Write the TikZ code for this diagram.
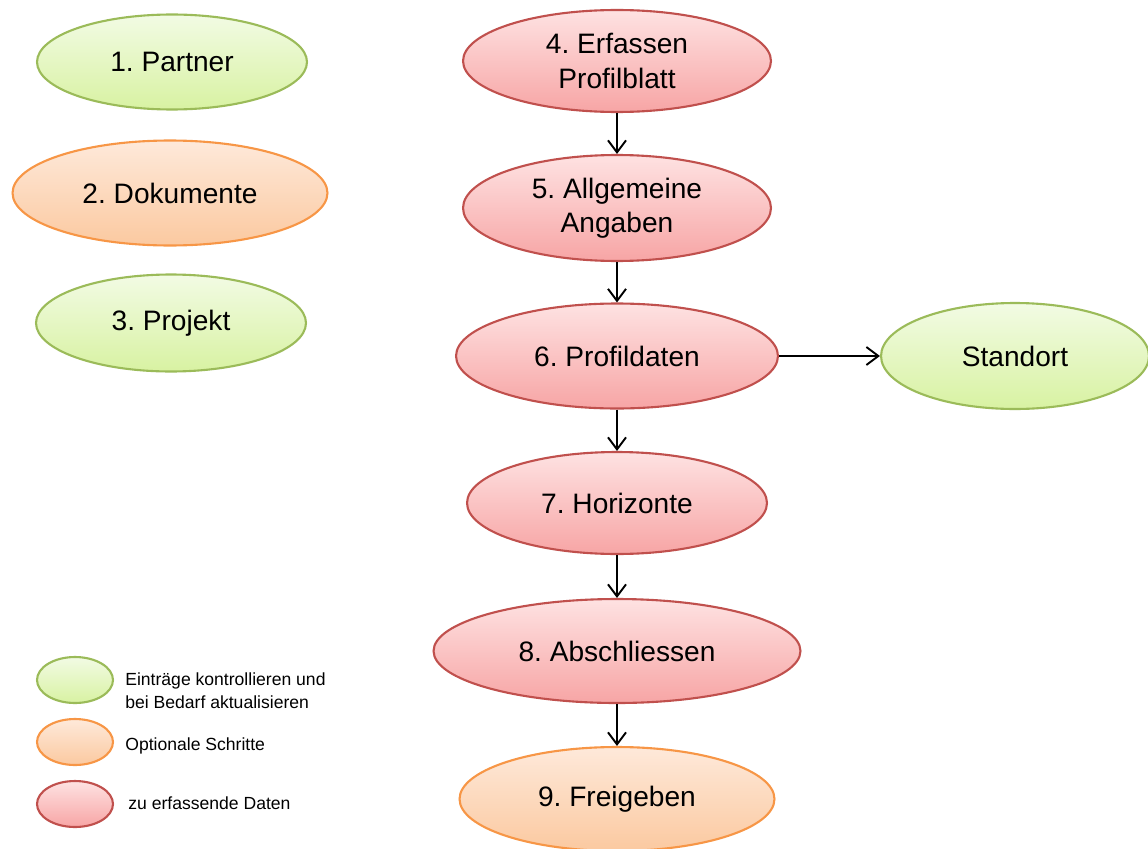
\documentclass[tikz,border=0pt]{standalone}
\usepackage{fontspec}
\setmainfont{Liberation Sans}
\usetikzlibrary{positioning, arrows.meta, shapes.geometric}
\frenchspacing

\definecolor{gruenrand}{HTML}{9BBB59}
\definecolor{gruenoben}{HTML}{F2FBE4}
\definecolor{gruenunten}{HTML}{D8F2A2}
\definecolor{orangerand}{HTML}{F79646}
\definecolor{orangeoben}{HTML}{FEE9DA}
\definecolor{orangeunten}{HTML}{FBC9A0}
\definecolor{rotrand}{HTML}{C0504D}
\definecolor{rotoben}{HTML}{FEE2E2}
\definecolor{rotunten}{HTML}{F7A5A5}

\begin{document}
\begin{tikzpicture}[x=0.02cm, y=-0.02cm,
    schritt/.style={ellipse, line width=1.2pt, inner sep=0pt, align=center,
        font=\fontsize{16}{19.5}\selectfont},
    gruen/.style={schritt, draw=gruenrand, top color=gruenoben, bottom color=gruenunten},
    orange/.style={schritt, draw=orangerand, top color=orangeoben, bottom color=orangeunten},
    rot/.style={schritt, draw=rotrand, top color=rotoben, bottom color=rotunten},
    legende/.style={minimum width=1.52cm, minimum height=0.92cm},
    erklaerung/.style={anchor=west, align=left, inner sep=0pt, font=\fontsize{10}{13}\selectfont},
    pfeil/.style={line width=1.1pt, -{Straight Barb[length=2.4mm, width=3.6mm]}}]
    \useasboundingbox (0,0) rectangle (1148,848);

    % linke Spalte
    \node[gruen, minimum width=5.4cm, minimum height=1.9cm] (partner) at (172,62) {1. Partner};
    \node[orange, minimum width=6.3cm, minimum height=2.1cm] (dokumente) at (170,193) {2. Dokumente};
    \node[gruen, minimum width=5.4cm, minimum height=1.94cm] (projekt) at (171,323) {3. Projekt};

    % Ablauf
    \node[rot, minimum width=6.16cm, minimum height=2.04cm] (erfassen) at (617,61) {4. Erfassen\\Profilblatt};
    \node[rot, minimum width=6.16cm, minimum height=2.12cm] (angaben) at (617,208) {5. Allgemeine\\Angaben};
    \node[rot, minimum width=6.44cm, minimum height=2.1cm] (profildaten) at (617,356) {6. Profildaten};
    \node[gruen, minimum width=5.36cm, minimum height=2.12cm] (standort) at (1015,356) {Standort};
    \node[rot, minimum width=6.0cm, minimum height=2.04cm] (horizonte) at (617,503) {7. Horizonte};
    \node[rot, minimum width=7.34cm, minimum height=2.08cm] (abschliessen) at (617,651) {8. Abschliessen};
    \node[orange, minimum width=6.3cm, minimum height=2.08cm] (freigeben) at (617,799) {9. Freigeben};

    \draw[pfeil] (erfassen) -- (angaben);
    \draw[pfeil] (angaben) -- (profildaten);
    \draw[pfeil] (profildaten) -- (horizonte);
    \draw[pfeil] (horizonte) -- (abschliessen);
    \draw[pfeil] (abschliessen) -- (freigeben);
    \draw[pfeil] (profildaten) -- (standort);

    % Legende
    \node[gruen, legende] (lgruen) at (75,680) {};
    \node[orange, legende] (lorange) at (75,742) {};
    \node[rot, legende] (lrot) at (75,804) {};
    \node[erklaerung] (tgruen) at (125,691) {Einträge kontrollieren und\\bei Bedarf aktualisieren};
    \node[erklaerung] (torange) at (125,746) {Optionale Schritte};
    \node[erklaerung] (trot) at (128,803) {zu erfassende Daten};
\end{tikzpicture}
\end{document}
